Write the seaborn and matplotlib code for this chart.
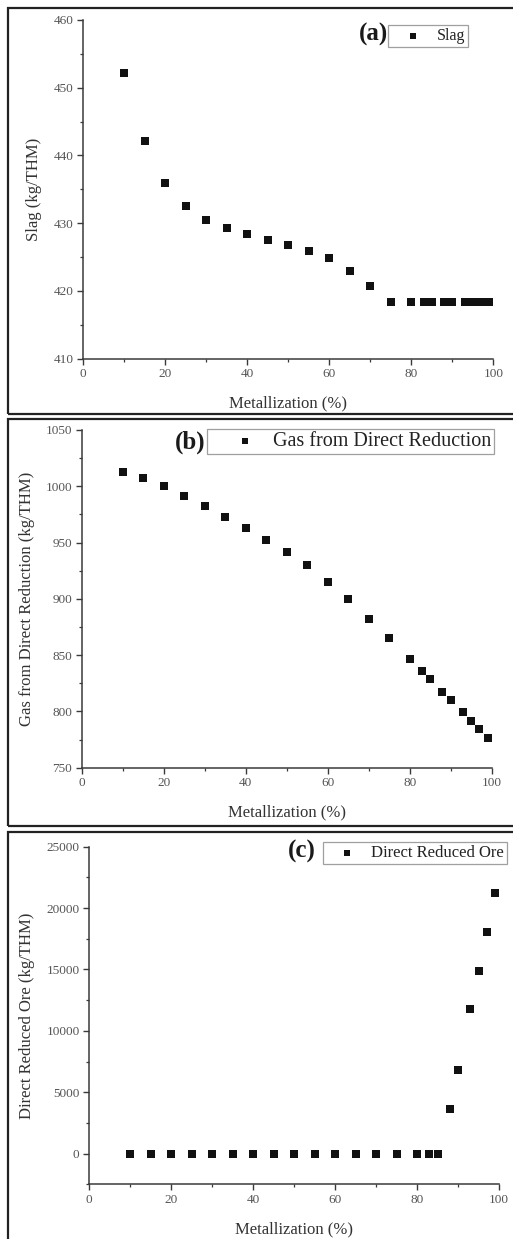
import matplotlib
matplotlib.use("Agg")
import matplotlib.pyplot as plt
import seaborn as sns
import pandas as pd
from matplotlib.ticker import MultipleLocator
from matplotlib.patches import Rectangle

# ---- data ----
metallization = [10, 15, 20, 25, 30, 35, 40, 45, 50, 55, 60, 65, 70, 75, 80,
                 83, 85, 88, 90, 93, 95, 97, 99]
slag = [452.2, 442.1, 435.9, 432.6, 430.5, 429.3, 428.4, 427.5, 426.8, 425.9,
        424.8, 422.9, 420.7, 418.3, 418.3, 418.3, 418.3, 418.3, 418.3, 418.3,
        418.3, 418.3, 418.3]
gas = [1012.7, 1007.7, 1000.3, 991.4, 982.5, 973.0, 963.0, 952.7, 941.4, 929.9,
       915.4, 899.7, 882.4, 865.3, 847.0, 835.9, 828.5, 817.6, 810.3, 799.1,
       791.8, 784.4, 776.8]
ore = [0, 0, 0, 0, 0, 0, 0, 0, 0, 0, 0, 0, 0, 0, 0, 0, 0,
       3614, 6820, 11747, 14893, 18065, 21237]

series_names = ["Slag", "Gas from Direct Reduction", "Direct Reduced Ore"]
y_labels = ["Slag (kg/THM)", "Gas from Direct Reduction (kg/THM)",
            "Direct Reduced Ore (kg/THM)"]
panel_tags = ["(a)", "(b)", "(c)"]
x_label = "Metallization (%)"

df = pd.DataFrame({"Metallization": metallization, "Slag": slag,
                   "Gas": gas, "Ore": ore})

sns.set_theme(style="white")
plt.rcParams["font.family"] = ["Liberation Serif", "DejaVu Serif"]

W, H = 513, 1239
fig = plt.figure(figsize=(W / 100, H / 100), dpi=100)
fig.patch.set_facecolor("white")

def fx(px):
    return px / W

def fy(py):
    return 1 - py / H

# panel frames (pixel boxes)
frames = [(8, 8, 414), (8, 419, 826), (8, 832, 1250)]
for x0, top, bot in frames:
    fig.add_artist(Rectangle((fx(x0), fy(bot)), 1.2, fy(top) - fy(bot),
                             transform=fig.transFigure, fill=False,
                             lw=1.6, ec="#222222", zorder=0))

panels = [
    dict(col="Slag", rect=(83.3, 20, 493.3, 358.7), ylim=(410, 460), ymaj=10, ymin=5,
         ylab_x=-0.12, xlab_y=-0.131,
         tag_xy=(0.743, 0.956),
         leg=dict(anchor=(0.743, 0.985), fs=11.5, bp=0.2, hl=2.7, htp=0.14)),
    dict(col="Gas", rect=(81.7, 430, 491.7, 767.7), ylim=(750, 1050), ymaj=50, ymin=25,
         ylab_x=-0.133, xlab_y=-0.131,
         tag_xy=(0.301, 0.964),
         leg=dict(anchor=(0.306, 1.003), fs=14.5, bp=0.15, hl=3.5, htp=-0.4)),
    dict(col="Ore", rect=(89.3, 846.7, 499.0, 1184.3), ylim=(-2500, 25000), ymaj=5000, ymin=2500,
         ylab_x=-0.152, xlab_y=-0.135,
         tag_xy=(0.553, 0.987),
         leg=dict(anchor=(0.570, 1.014), fs=12, bp=0.18, hl=2.6, htp=0.12)),
]

for i, p in enumerate(panels):
    l, t, r, b = p["rect"]
    ax = fig.add_axes([fx(l), fy(b), fx(r) - fx(l), fy(t) - fy(b)])
    ax.set_facecolor("none")
    sns.scatterplot(data=df, x="Metallization", y=p["col"], marker="s", s=28,
                    color="#111111", edgecolor="#111111", linewidth=0,
                    ax=ax, label=series_names[i], zorder=3)
    ax.set_xlim(0, 100)
    ax.set_ylim(*p["ylim"])
    ax.xaxis.set_major_locator(MultipleLocator(20))
    ax.xaxis.set_minor_locator(MultipleLocator(10))
    ax.yaxis.set_major_locator(MultipleLocator(p["ymaj"]))
    ax.yaxis.set_minor_locator(MultipleLocator(p["ymin"]))
    if i == 2:
        ax.set_yticks([0, 5000, 10000, 15000, 20000, 25000])
    sns.despine(ax=ax)
    for s in ("left", "bottom"):
        ax.spines[s].set_color("#3a3a3a")
        ax.spines[s].set_linewidth(1.1)
    ax.tick_params(which="major", direction="out", length=4, width=1,
                   color="#3a3a3a", labelsize=9.5, labelcolor="#555555", pad=3)
    ax.tick_params(which="minor", direction="out", length=2.2, width=0.9,
                   color="#3a3a3a")
    ax.tick_params(left=True, bottom=True, which="both")

    ax.set_xlabel(x_label, fontsize=12, color="#333333")
    ax.xaxis.set_label_coords(0.5, p["xlab_y"])
    ax.xaxis.label.set_va("center")
    ax.set_ylabel(y_labels[i], fontsize=12, color="#333333")
    ax.yaxis.set_label_coords(p["ylab_x"], 0.5)
    ax.yaxis.label.set_va("center")

    ax.text(p["tag_xy"][0], p["tag_xy"][1], panel_tags[i], transform=ax.transAxes,
            fontsize=18, fontweight="bold", ha="right", va="center", color="#1a1a1a")

    lg = p["leg"]
    leg = ax.legend(loc="upper left", bbox_to_anchor=lg["anchor"], borderaxespad=0,
                    frameon=True, fancybox=False, edgecolor="#888888",
                    fontsize=lg["fs"], borderpad=lg["bp"], handlelength=lg["hl"],
                    handletextpad=lg["htp"], markerscale=0.8)
    leg.get_frame().set_linewidth(0.9)
    leg.get_frame().set_facecolor("white")
    for txt in leg.get_texts():
        txt.set_color("#222222")

fig.savefig("out.png", dpi=100, facecolor="white")
